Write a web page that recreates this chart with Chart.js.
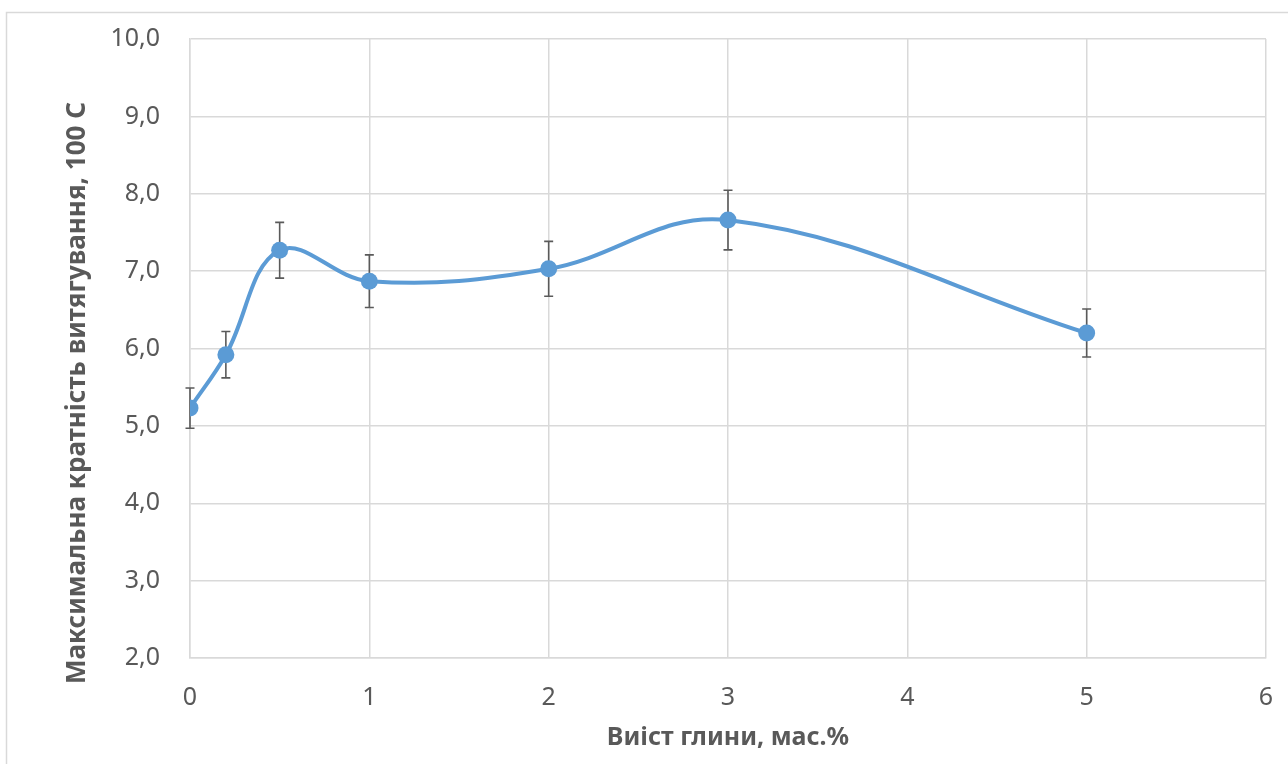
<!DOCTYPE html>
<html>
<head>
<meta charset="utf-8">
<script src="https://cdn.jsdelivr.net/npm/chart.js@4.4.1/dist/chart.umd.min.js"></script>
<style>
  html, body { margin: 0; padding: 0; background: #ffffff; }
  #wrap { position: relative; width: 1288px; height: 764px; }
</style>
</head>
<body>
<div id="wrap"><canvas id="chart" width="1288" height="764"></canvas></div>
<script>
// Clay content, mass %
const clayContent = [0, 0.2, 0.5, 1, 2, 3, 5];
// Maximum draw ratio at 100 °C
const drawRatio = [5.23, 5.92, 7.27, 6.87, 7.03, 7.66, 6.20];
// Error of each measurement (±)
const drawRatioError = [0.26, 0.30, 0.36, 0.34, 0.355, 0.385, 0.31];

const xTitle = 'Виіст глини, мас.%';
const yTitle = 'Максимальна кратність витягування, 100 С';

const textColor = '#595959';
const gridColor = '#d9d9d9';
const lineColor = '#5b9bd5';
const fontFamily = "'Noto Sans', 'Open Sans', sans-serif";

const points = clayContent.map((x, i) => ({ x: x, y: drawRatio[i] }));

// Outer frame of the chart area
const framePlugin = {
  id: 'frame',
  beforeDraw(chart) {
    const ctx = chart.ctx;
    ctx.save();
    ctx.fillStyle = '#ffffff';
    ctx.fillRect(0, 0, chart.width, chart.height);
    ctx.strokeStyle = gridColor;
    ctx.lineWidth = 1.5;
    ctx.strokeRect(6.5, 12.5, chart.width + 20, chart.height + 20);
    ctx.restore();
  }
};

// Vertical error bars with caps, placed under the markers
const errorBarPlugin = {
  id: 'errorBars',
  beforeDatasetsDraw(chart) {
    const ctx = chart.ctx;
    const xs = chart.scales.x;
    const ys = chart.scales.y;
    ctx.save();
    ctx.strokeStyle = '#5a5a5a';
    ctx.lineWidth = 1.6;
    const cap = 4.5;
    clayContent.forEach((x, i) => {
      const px = xs.getPixelForValue(x);
      const top = ys.getPixelForValue(drawRatio[i] + drawRatioError[i]);
      const bot = ys.getPixelForValue(drawRatio[i] - drawRatioError[i]);
      ctx.beginPath();
      ctx.moveTo(px, top); ctx.lineTo(px, bot);
      ctx.moveTo(px - cap, top); ctx.lineTo(px + cap, top);
      ctx.moveTo(px - cap, bot); ctx.lineTo(px + cap, bot);
      ctx.stroke();
    });
    ctx.restore();
  }
};

// Rotated title of the value axis
const yTitlePlugin = {
  id: 'yTitle',
  afterDraw(chart) {
    const ctx = chart.ctx;
    ctx.save();
    ctx.translate(78, 393);
    ctx.rotate(-Math.PI / 2);
    ctx.fillStyle = textColor;
    ctx.font = "bold 26px " + fontFamily;
    ctx.textAlign = 'center';
    ctx.textBaseline = 'middle';
    ctx.fillText(yTitle, 0, 0);
    ctx.restore();
  }
};

new Chart(document.getElementById('chart'), {
  type: 'scatter',
  data: {
    datasets: [{
      data: points,
      showLine: true,
      borderColor: lineColor,
      backgroundColor: lineColor,
      borderWidth: 4,
      tension: 0.38,
      pointRadius: 8.5,
      pointHoverRadius: 8.5,
      pointBackgroundColor: lineColor,
      pointBorderColor: lineColor,
      pointBorderWidth: 0
    }]
  },
  options: {
    responsive: false,
    animation: false,
    events: [],
    layout: { padding: { left: 0, top: 39, right: 22, bottom: 0 } },
    plugins: {
      legend: { display: false },
      tooltip: { enabled: false }
    },
    scales: {
      x: {
        type: 'linear',
        min: 0, max: 6,
        afterFit(scale) {
          scale.height = 106;
          scale.paddingLeft = 0;
          scale.paddingRight = 0;
        },
        ticks: {
          stepSize: 1,
          padding: 25,
          color: textColor,
          font: { family: fontFamily, size: 25 }
        },
        grid: { color: gridColor, lineWidth: 1.5, drawTicks: false },
        border: { color: gridColor, width: 1.5 },
        title: {
          display: true,
          text: xTitle,
          color: textColor,
          font: { family: fontFamily, size: 25, weight: 'bold' },
          padding: { top: 4, bottom: 11 }
        }
      },
      y: {
        type: 'linear',
        min: 2, max: 10,
        afterFit(scale) {
          scale.width = 190;
          scale.paddingTop = 0;
          scale.paddingBottom = 0;
        },
        ticks: {
          stepSize: 1,
          padding: 30,
          color: textColor,
          font: { family: fontFamily, size: 25 },
          callback: (v) => v.toFixed(1).replace('.', ',')
        },
        grid: { color: gridColor, lineWidth: 1.5, drawTicks: false },
        border: { color: gridColor, width: 1.5 }
      }
    }
  },
  plugins: [framePlugin, errorBarPlugin, yTitlePlugin]
});
</script>
</body>
</html>
